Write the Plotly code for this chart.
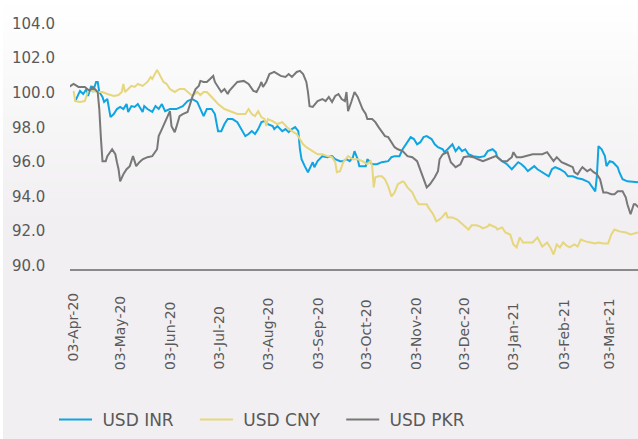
import plotly.graph_objects as go

# ---- exchange-rate indices (rebased, 100 = start of period) ----
inr_dates = [
    "2020-04-05", "2020-04-08", "2020-04-10", "2020-04-12", "2020-04-13", "2020-04-15", "2020-04-16",
    "2020-04-18", "2020-04-19", "2020-04-20", "2020-04-22", "2020-04-23", "2020-04-25", "2020-04-27",
    "2020-04-29", "2020-05-01", "2020-05-03", "2020-05-05", "2020-05-07", "2020-05-08", "2020-05-10",
    "2020-05-12", "2020-05-14", "2020-05-17", "2020-05-18", "2020-05-20", "2020-05-23", "2020-05-25",
    "2020-05-27", "2020-05-29", "2020-05-31", "2020-06-03", "2020-06-07", "2020-06-11", "2020-06-14",
    "2020-06-17", "2020-06-20", "2020-06-22", "2020-06-24", "2020-06-26", "2020-06-29", "2020-07-01",
    "2020-07-03", "2020-07-05", "2020-07-07", "2020-07-09", "2020-07-12", "2020-07-15", "2020-07-18",
    "2020-07-20", "2020-07-22", "2020-07-24", "2020-07-26", "2020-07-28", "2020-07-30", "2020-08-01",
    "2020-08-03", "2020-08-06", "2020-08-07", "2020-08-09", "2020-08-12", "2020-08-14", "2020-08-16",
    "2020-08-18", "2020-08-20", "2020-08-22", "2020-08-23", "2020-08-24", "2020-08-26", "2020-08-28",
    "2020-08-31", "2020-09-01", "2020-09-03", "2020-09-06", "2020-09-09", "2020-09-12", "2020-09-14",
    "2020-09-17", "2020-09-19", "2020-09-21", "2020-09-23", "2020-09-25", "2020-09-26", "2020-09-28",
    "2020-09-29", "2020-10-03", "2020-10-04", "2020-10-07", "2020-10-10", "2020-10-13", "2020-10-17",
    "2020-10-19", "2020-10-21", "2020-10-24", "2020-10-26", "2020-10-29", "2020-10-31", "2020-11-02",
    "2020-11-04", "2020-11-06", "2020-11-08", "2020-11-10", "2020-11-13", "2020-11-15", "2020-11-17",
    "2020-11-20", "2020-11-21", "2020-11-23", "2020-11-26", "2020-11-28", "2020-11-30", "2020-12-02",
    "2020-12-04", "2020-12-06", "2020-12-09", "2020-12-13", "2020-12-16", "2020-12-18", "2020-12-21",
    "2020-12-23", "2020-12-24", "2020-12-27", "2020-12-30", "2021-01-02", "2021-01-04", "2021-01-06",
    "2021-01-08", "2021-01-10", "2021-01-12", "2021-01-15", "2021-01-16", "2021-01-18", "2021-01-21",
    "2021-01-23", "2021-01-25", "2021-01-27", "2021-01-29", "2021-02-01", "2021-02-04", "2021-02-06",
    "2021-02-09", "2021-02-12", "2021-02-15", "2021-02-19", "2021-02-21", "2021-02-23", "2021-02-24",
    "2021-02-25", "2021-02-27", "2021-03-01", "2021-03-02", "2021-03-04", "2021-03-06", "2021-03-09",
    "2021-03-10", "2021-03-12", "2021-03-15", "2021-03-19", "2021-03-22",
]
inr_values = [
    99.53, 100.12, 99.94, 100.23, 99.83, 100.41, 100.06,
    100.64, 100.64, 100.06, 99.77, 99.48, 99.65, 98.60,
    98.78, 99.07, 99.19, 99.07, 99.36, 98.90, 99.24,
    99.19, 99.36, 98.90, 99.24, 99.07, 98.90, 99.24,
    99.07, 99.36, 98.95, 99.07, 99.07, 99.24, 99.53,
    99.65, 99.48, 99.07, 98.66, 99.07, 99.07, 98.78,
    97.79, 97.79, 98.20, 98.49, 98.49, 98.31, 97.79,
    97.50, 97.62, 97.79, 97.62, 97.91, 98.31, 98.37,
    98.20, 98.08, 97.91, 98.08, 97.79, 97.91, 97.73,
    97.91, 98.02, 97.79, 96.74, 96.16, 95.76, 95.41,
    95.99, 95.70, 96.05, 96.34, 96.28, 96.34, 96.16,
    96.05, 96.05, 96.16, 96.05, 96.28, 96.63, 96.16,
    95.76, 95.76, 96.16, 95.87, 95.87, 95.99, 96.05,
    96.28, 96.34, 96.34, 96.74, 97.21, 97.44, 97.33,
    97.03, 97.15, 97.44, 97.50, 97.33, 97.03, 96.86,
    96.74, 96.57, 96.74, 97.03, 96.63, 96.86, 96.63,
    96.74, 96.45, 96.34, 96.28, 96.34, 96.63, 96.74,
    96.57, 96.28, 96.05, 95.87, 95.58, 95.76, 95.99,
    95.87, 95.70, 95.47, 95.70, 95.76, 95.58, 95.41,
    95.29, 95.17, 95.58, 95.70, 95.58, 95.41, 95.17,
    95.17, 95.06, 95.00, 94.83, 94.59, 94.30, 95.17,
    96.92, 96.74, 96.34, 95.76, 96.05, 95.99, 95.70,
    95.41, 95.00, 94.88, 94.83, 94.83,
]

cny_dates = [
    "2020-04-04", "2020-04-05", "2020-04-08", "2020-04-11", "2020-04-13", "2020-04-16", "2020-04-19",
    "2020-04-22", "2020-04-25", "2020-04-29", "2020-05-02", "2020-05-04", "2020-05-05", "2020-05-06",
    "2020-05-08", "2020-05-10", "2020-05-12", "2020-05-14", "2020-05-17", "2020-05-20", "2020-05-22",
    "2020-05-23", "2020-05-26", "2020-05-28", "2020-05-30", "2020-06-01", "2020-06-03", "2020-06-06",
    "2020-06-09", "2020-06-12", "2020-06-14", "2020-06-17", "2020-06-20", "2020-06-22", "2020-06-24",
    "2020-06-26", "2020-06-29", "2020-07-03", "2020-07-07", "2020-07-12", "2020-07-15", "2020-07-20",
    "2020-07-22", "2020-07-24", "2020-07-26", "2020-07-28", "2020-07-30", "2020-08-01", "2020-08-02",
    "2020-08-03", "2020-08-06", "2020-08-09", "2020-08-12", "2020-08-15", "2020-08-18", "2020-08-21",
    "2020-08-23", "2020-08-25", "2020-08-27", "2020-08-31", "2020-09-03", "2020-09-06", "2020-09-09",
    "2020-09-12", "2020-09-14", "2020-09-15", "2020-09-17", "2020-09-19", "2020-09-22", "2020-09-25",
    "2020-09-28", "2020-10-01", "2020-10-04", "2020-10-06", "2020-10-07", "2020-10-08", "2020-10-09",
    "2020-10-11", "2020-10-13", "2020-10-15", "2020-10-17", "2020-10-19", "2020-10-21", "2020-10-23",
    "2020-10-26", "2020-10-27", "2020-10-29", "2020-11-01", "2020-11-03", "2020-11-05", "2020-11-07",
    "2020-11-10", "2020-11-11", "2020-11-14", "2020-11-16", "2020-11-18", "2020-11-20", "2020-11-22",
    "2020-11-23", "2020-11-26", "2020-11-29", "2020-12-01", "2020-12-04", "2020-12-06", "2020-12-08",
    "2020-12-11", "2020-12-13", "2020-12-15", "2020-12-18", "2020-12-19", "2020-12-23", "2020-12-24",
    "2020-12-27", "2020-12-29", "2021-01-01", "2021-01-03", "2021-01-05", "2021-01-07", "2021-01-09",
    "2021-01-12", "2021-01-15", "2021-01-18", "2021-01-20", "2021-01-21", "2021-01-24", "2021-01-26",
    "2021-01-28", "2021-01-30", "2021-02-01", "2021-02-03", "2021-02-05", "2021-02-07", "2021-02-10",
    "2021-02-12", "2021-02-14", "2021-02-17", "2021-02-20", "2021-02-23", "2021-02-25", "2021-02-28",
    "2021-03-03", "2021-03-05", "2021-03-07", "2021-03-10", "2021-03-14", "2021-03-17", "2021-03-22",
]
cny_values = [
    100.12, 99.53, 99.48, 99.53, 100.12, 100.12, 100.06,
    100.06, 99.94, 99.83, 99.88, 100.06, 100.52, 100.06,
    100.23, 100.41, 100.35, 100.52, 100.41, 100.64, 100.93,
    100.81, 101.34, 100.99, 100.64, 100.52, 100.23, 100.06,
    100.23, 100.23, 100.06, 99.83, 100.06, 99.88, 100.06,
    100.06, 99.77, 99.36, 99.07, 98.90, 98.78, 98.78,
    99.07, 98.78, 98.66, 98.95, 98.60, 98.49, 98.08,
    98.49, 98.37, 98.20, 98.31, 98.02, 97.79, 97.62,
    97.33, 97.03, 96.86, 96.63, 96.45, 96.45, 96.34,
    96.28, 95.99, 95.41, 95.47, 95.99, 96.34, 96.16,
    96.16, 96.05, 95.87, 96.05, 95.76, 94.53, 95.12,
    95.17, 95.17, 95.00, 94.59, 94.01, 94.24, 94.71,
    94.88, 94.83, 94.53, 94.24, 93.84, 93.55, 93.55,
    93.55, 93.37, 92.97, 92.56, 92.67, 92.85, 93.08,
    92.79, 92.79, 92.67, 92.50, 92.21, 92.09, 92.33,
    92.33, 92.27, 92.15, 92.27, 92.38, 92.21, 92.09,
    92.21, 91.92, 91.80, 91.22, 91.05, 91.63, 91.34,
    91.34, 91.34, 91.63, 91.22, 91.10, 91.34, 91.05,
    90.64, 91.22, 91.05, 91.34, 91.16, 91.05, 91.22,
    91.10, 91.51, 91.40, 91.34, 91.28, 91.34, 91.28,
    91.28, 91.80, 92.09, 91.98, 91.92, 91.80, 91.92,
]

pkr_dates = [
    "2020-04-01", "2020-04-04", "2020-04-07", "2020-04-11", "2020-04-14", "2020-04-16", "2020-04-19",
    "2020-04-20", "2020-04-21", "2020-04-22", "2020-04-24", "2020-04-25", "2020-04-28", "2020-04-30",
    "2020-05-01", "2020-05-02", "2020-05-03", "2020-05-05", "2020-05-07", "2020-05-09", "2020-05-11",
    "2020-05-13", "2020-05-15", "2020-05-17", "2020-05-20", "2020-05-23", "2020-05-26", "2020-05-27",
    "2020-05-29", "2020-05-31", "2020-06-01", "2020-06-03", "2020-06-04", "2020-06-06", "2020-06-07",
    "2020-06-09", "2020-06-11", "2020-06-14", "2020-06-17", "2020-06-19", "2020-06-21", "2020-06-22",
    "2020-06-24", "2020-06-26", "2020-06-28", "2020-06-30", "2020-07-01", "2020-07-03", "2020-07-05",
    "2020-07-07", "2020-07-09", "2020-07-10", "2020-07-12", "2020-07-15", "2020-07-19", "2020-07-22",
    "2020-07-25", "2020-07-27", "2020-07-29", "2020-07-30", "2020-07-31", "2020-08-02", "2020-08-04",
    "2020-08-07", "2020-08-11", "2020-08-14", "2020-08-16", "2020-08-18", "2020-08-21", "2020-08-23",
    "2020-08-25", "2020-08-27", "2020-08-28", "2020-08-29", "2020-08-31", "2020-09-03", "2020-09-06",
    "2020-09-08", "2020-09-10", "2020-09-12", "2020-09-14", "2020-09-16", "2020-09-18", "2020-09-20",
    "2020-09-21", "2020-09-22", "2020-09-24", "2020-09-26", "2020-09-28", "2020-10-01", "2020-10-03",
    "2020-10-04", "2020-10-07", "2020-10-09", "2020-10-11", "2020-10-13", "2020-10-15", "2020-10-17",
    "2020-10-19", "2020-10-21", "2020-10-23", "2020-10-26", "2020-10-29", "2020-11-01", "2020-11-04",
    "2020-11-06", "2020-11-08", "2020-11-10", "2020-11-12", "2020-11-15", "2020-11-17", "2020-11-18",
    "2020-11-20", "2020-11-23", "2020-11-25", "2020-11-28", "2020-12-01", "2020-12-03", "2020-12-06",
    "2020-12-09", "2020-12-12", "2020-12-15", "2020-12-18", "2020-12-23", "2020-12-24", "2020-12-27",
    "2020-12-30", "2021-01-02", "2021-01-03", "2021-01-05", "2021-01-08", "2021-01-11", "2021-01-15",
    "2021-01-18", "2021-01-21", "2021-01-24", "2021-01-26", "2021-01-28", "2021-01-30", "2021-02-02",
    "2021-02-05", "2021-02-09", "2021-02-10", "2021-02-12", "2021-02-14", "2021-02-15", "2021-02-18",
    "2021-02-20", "2021-02-22", "2021-02-24", "2021-02-26", "2021-02-28", "2021-03-02", "2021-03-05",
    "2021-03-07", "2021-03-09", "2021-03-12", "2021-03-14", "2021-03-15", "2021-03-17", "2021-03-19",
    "2021-03-20", "2021-03-22",
]
pkr_values = [
    100.35, 100.52, 100.35, 100.35, 100.12, 100.35, 100.06,
    99.07, 97.40, 96.05, 96.05, 96.34, 96.74, 96.45,
    95.99, 95.58, 94.88, 95.29, 95.58, 95.76, 96.34,
    95.76, 95.99, 96.16, 96.28, 96.34, 96.74, 97.50,
    97.91, 98.31, 98.60, 98.95, 98.08, 97.73, 98.02,
    98.66, 98.78, 98.90, 99.77, 100.23, 100.41, 100.70,
    100.64, 100.64, 100.81, 100.99, 100.64, 100.35, 100.06,
    100.23, 99.94, 100.12, 100.35, 100.64, 100.70, 100.52,
    100.12, 100.06, 100.41, 100.64, 100.35, 100.64, 101.10,
    101.22, 100.99, 100.93, 101.10, 100.93, 101.22, 101.28,
    101.10, 100.64, 100.06, 99.24, 99.19, 99.53, 99.65,
    99.53, 99.77, 99.48, 99.83, 99.94, 99.65, 99.53,
    100.06, 98.95, 99.48, 100.06, 99.77, 99.07, 98.78,
    98.49, 98.49, 98.31, 98.02, 97.79, 97.50, 97.44,
    97.15, 96.86, 96.74, 96.63, 96.34, 96.28, 96.05,
    95.58, 95.00, 94.53, 94.71, 95.12, 95.47, 96.16,
    96.45, 96.57, 95.99, 95.70, 95.87, 96.28, 96.34,
    96.28, 96.16, 96.05, 96.16, 96.34, 96.28, 96.05,
    96.05, 96.28, 96.57, 96.28, 96.28, 96.34, 96.45,
    96.45, 96.45, 96.57, 96.34, 96.05, 96.28, 95.99,
    95.87, 95.70, 95.41, 95.29, 95.58, 95.70, 95.47,
    95.58, 95.41, 95.29, 95.00, 94.24, 94.24, 94.13,
    94.13, 94.30, 94.30, 93.95, 93.55, 92.97, 93.55,
    93.55, 93.37,
]

tick_dates = ["2020-04-03", "2020-05-03", "2020-06-03", "2020-07-03", "2020-08-03", "2020-09-03",
              "2020-10-03", "2020-11-03", "2020-12-03", "2021-01-03", "2021-02-03", "2021-03-03"]
tick_labels = ["03-Apr-20", "03-May-20", "03-Jun-20", "03-Jul-20", "03-Aug-20", "03-Sep-20",
               "03-Oct-20", "03-Nov-20", "03-Dec-20", "03-Jan-21", "03-Feb-21", "03-Mar-21"]
y_ticks = [90, 92, 94, 96, 98, 100, 102, 104]

# ---- geometry helpers (pixel -> paper fractions) ----
W, H = 638, 439
ML, MR, MT, MB = 70, 0, 20, 170
PW, PH = W - ML - MR, H - MT - MB


def px_x(px):
    return (px - ML) / PW


def px_y(py):
    return (H - MB - py) / PH


TEXT = "#595959"
FONT = "DejaVu Sans"
NB = "\u00a0"  # non-breaking space used to pad legend entries

fig = go.Figure()
fig.add_trace(go.Scatter(x=inr_dates, y=inr_values, mode="lines", name=NB + "USD INR" + NB * 3,
                         line=dict(color="#0ea5e2", width=2)))
fig.add_trace(go.Scatter(x=cny_dates, y=cny_values, mode="lines", name=NB + "USD CNY" + NB * 3,
                         line=dict(color="#e6d67c", width=2)))
fig.add_trace(go.Scatter(x=pkr_dates, y=pkr_values, mode="lines", name=NB + "USD PKR",
                         line=dict(color="#787878", width=2)))

# soft vertical background gradient
shapes = []
n_bands = 40
top_c = (255, 255, 255)
bot_c = (241, 239, 241)
grad_h = 220
for i in range(n_bands):
    t = (i + 0.5) / n_bands
    c = tuple(round(a + (b - a) * t) for a, b in zip(top_c, bot_c))
    y0 = grad_h * i / n_bands
    y1 = grad_h * (i + 1) / n_bands + 0.6
    shapes.append(dict(type="rect", xref="paper", yref="paper", layer="below",
                       x0=px_x(3), x1=px_x(W), y0=px_y(y1), y1=px_y(y0),
                       fillcolor="rgb(%d,%d,%d)" % c, line=dict(width=0)))
shapes.append(dict(type="rect", xref="paper", yref="paper", layer="below",
                   x0=px_x(3), x1=px_x(W), y0=px_y(H), y1=px_y(grad_h),
                   fillcolor="rgb(%d,%d,%d)" % bot_c, line=dict(width=0)))

annotations = []
# y-axis labels, left aligned
for v in y_ticks:
    annotations.append(dict(x=px_x(10), y=v, xref="paper", yref="y", xanchor="left", yanchor="middle",
                            text="%.1f" % v, showarrow=False,
                            font=dict(family=FONT, size=15, color=TEXT)))
# rotated date labels, aligned at their start
for i, (d, lab) in enumerate(zip(tick_dates, tick_labels)):
    bottom = 364 if i == 0 else 372
    annotations.append(dict(x=d, y=px_y(bottom), xref="x", yref="paper", xanchor="center",
                            yanchor="bottom", text=lab, textangle=-90, showarrow=False,
                            font=dict(family=FONT, size=14, color=TEXT)))

fig.update_layout(
    width=W, height=H, autosize=False,
    margin=dict(l=ML, r=MR, t=MT, b=MB, pad=0),
    paper_bgcolor="white", plot_bgcolor="rgba(0,0,0,0)",
    font=dict(family=FONT, color=TEXT),
    shapes=shapes, annotations=annotations,
    showlegend=True,
    legend=dict(orientation="h", x=px_x(54), y=px_y(420), xanchor="left", yanchor="middle",
                font=dict(family=FONT, size=17, color=TEXT), bgcolor="rgba(0,0,0,0)",
                traceorder="normal", itemwidth=33),
    xaxis=dict(type="date", range=["2020-04-01 18:00", "2021-03-21 15:00"],
               showline=True, linecolor="#8a8a8a", linewidth=1.5, showgrid=False,
               zeroline=False, showticklabels=False, ticks=""),
    yaxis=dict(range=[89.8, 104.23], showline=False, showgrid=False, zeroline=False,
               showticklabels=False, ticks=""),
)

fig.write_html("out.html")
